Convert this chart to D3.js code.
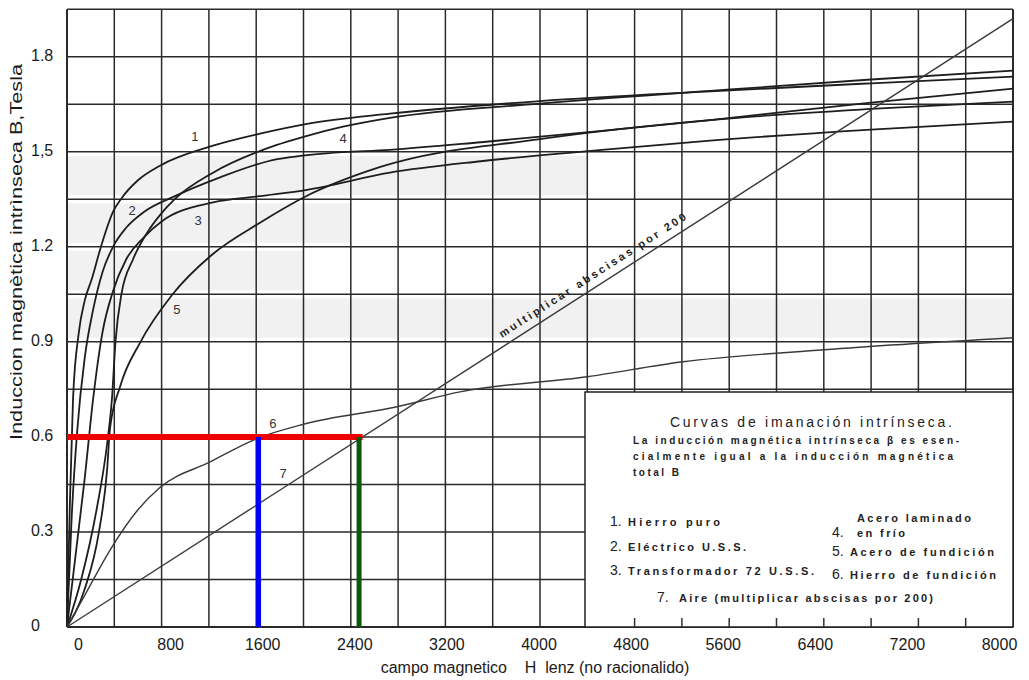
<!DOCTYPE html>
<html>
<head>
<meta charset="utf-8">
<script src="https://cdn.jsdelivr.net/npm/d3@7"></script>
<style>
  body { margin: 0; background: #fff; }
  text { font-family: "Liberation Sans", Arial, sans-serif; }
</style>
</head>
<body>
<div id="chart"></div>
<script>

// values, [H lenz, B tesla]
var curve1 = [[0,0],[25,0.4],[51,0.72],[100,0.93],[150,1.03],[211,1.1],[279,1.19],[389,1.31],[465,1.355],[600,1.41],[786,1.456],[1235,1.519],[1632,1.557],[2030,1.588],[2731,1.62],[4000,1.66],[5400,1.69],[6800,1.716],[8000,1.737]]
var curve2 = [[0,0],[40,0.35],[85,0.613],[150,0.85],[220,1.0],[300,1.12],[389,1.2],[500,1.26],[650,1.31],[913,1.36],[1300,1.42],[1700,1.47],[2200,1.495],[2731,1.506],[3500,1.53],[4500,1.565],[5438,1.6],[6800,1.655],[8000,1.699]]
var curve3 = [[0,0],[80,0.25],[150,0.47],[220,0.717],[300,0.93],[389,1.06],[500,1.16],[650,1.23],[800,1.28],[1235,1.34],[1632,1.36],[2030,1.38],[2731,1.434],[3500,1.47],[4500,1.505],[5438,1.535],[6800,1.57],[8000,1.595]]
var curve4 = [[0,0],[120,0.15],[250,0.37],[340,0.58],[380,0.72],[410,0.9],[460,1.05],[558,1.16],[677,1.244],[786,1.3],[913,1.351],[1235,1.434],[1657,1.506],[2030,1.55],[2334,1.579],[2731,1.607],[4000,1.652],[5438,1.692],[6800,1.728],[8000,1.756]]
var curve5 = [[0,0],[150,0.12],[270,0.3],[340,0.5],[364,0.628],[450,0.76],[617,0.897],[888,1.048],[1226,1.175],[1632,1.276],[2013,1.358],[2650,1.452],[4000,1.54],[5438,1.6],[6800,1.635],[8000,1.658]]
var curve6 = [[0,0],[150,0.1],[364,0.243],[600,0.37],[786,0.44],[1209,0.521],[1607,0.595],[2000,0.64],[2791,0.695],[3323,0.742],[4400,0.79],[5209,0.837],[6400,0.875],[8000,0.913]]
var curve7 = [[0,0],[8000,1.92]]

var curveNames = ["1","2","3","4","5","6","7"]
// where the little numbers sit (H, B)
var curveLabelAt = [[1082,1.544],[550,1.31],[1108,1.279],[2334,1.538],[930,1.0],[1742,0.638],[1827,0.48]]

var xTicks = [0,800,1600,2400,3200,4000,4800,5600,6400,7200,8000]
var yTicks = [0,0.3,0.6,0.9,1.2,1.5,1.8]
var yTickLabels = ["0","0.3","0.6","0.9","1.2","1,5","1.8"]

// the coloured reading lines drawn over the scan
var readB = 0.6
var readHEnd = 2500
var readHBlue = 1620
var readHGreen = 2470

var legendTitle = "Curvas de imanación intrínseca."
var legendNote = ["La inducción magnética intrínseca β es esen-", "cialmente igual a la inducción magnética", "total B"]
var legendNums = ["1.","2.","3.","4.","5.","6.","7."]
var legendTexts = ["Hierro puro","Eléctrico U.S.S.","Transformador 72 U.S.S.","Acero laminado|en frío","Acero de fundición","Hierro de fundición","Aire (multiplicar abscisas por 200)"]

var width = 1029, height = 680

var svg = d3.select("#chart").append("svg")
    .attr("width", width)
    .attr("height", height)

var x = d3.scaleLinear().domain([0, 8000]).range([67, 1013])
var y = d3.scaleLinear().domain([0, 1.96]).range([627, 6])
// tick numbers were typed on a bit narrower than the scanned grid
var xLab = d3.scaleLinear().domain([0, 8000]).range([78, 999])

// faint grey banding from the scan
var bands = [[1.35,1.5,0,4400],[1.2,1.35,0,2400],[0.9,1.05,0,8000],[1.05,1.2,0,2000]]
svg.selectAll(".band")
    .data(bands)
    .enter().append("rect")
    .attr("class","band")
    .attr("x", function(d){ return x(d[2]) })
    .attr("width", function(d){ return x(d[3]) - x(d[2]) })
    .attr("y", function(d){ return y(d[1]) + 4 })
    .attr("height", function(d){ return y(d[0]) - y(d[1]) - 8 })
    .attr("fill", "#f1f1f1")

// grid, every 400 lenz and every 0.15 T
var gx = d3.range(0, 8001, 400)
var gy = d3.range(0, 1.96, 0.15)

svg.append("g").selectAll("line")
    .data(gx)
    .enter().append("line")
    .attr("x1", function(d){ return x(d) })
    .attr("x2", function(d){ return x(d) })
    .attr("y1", y(1.95))
    .attr("y2", y(0))
    .attr("stroke", "#2a2a2a")
    .attr("stroke-width", function(d){ return (d == 0 || d == 8000) ? 2 : 1.5 })

svg.append("g").selectAll("line")
    .data(gy)
    .enter().append("line")
    .attr("x1", x(0))
    .attr("x2", x(8000))
    .attr("y1", function(d){ return y(d) })
    .attr("y2", function(d){ return y(d) })
    .attr("stroke", "#2a2a2a")
    .attr("stroke-width", function(d, i){ return i == 0 ? 2 : 1.5 })

// legend box sits on top of the grid
var box = svg.append("g")
box.append("rect")
    .attr("x", 585).attr("y", 392)
    .attr("width", x(8000) - 585).attr("height", y(0) - 392)
    .attr("fill", "#fff")
    .attr("stroke", "#222")
    .attr("stroke-width", 1.5)

box.selectAll(".tk")
    .data(gx.filter(function(d){ return x(d) > 600 && d < 8000 }))
    .enter().append("line")
    .attr("class","tk")
    .attr("x1", function(d){ return x(d) }).attr("x2", function(d){ return x(d) })
    .attr("y1", y(0) - 9).attr("y2", y(0))
    .attr("stroke", "#333").attr("stroke-width", 1.5)

box.append("text")
    .attr("x", 670).attr("y", 427)
    .attr("font-size", 14)
    .attr("textLength", 282)
    .attr("lengthAdjust", "spacing")
    .attr("fill", "#222")
    .text(legendTitle)

box.selectAll(".note")
    .data(legendNote)
    .enter().append("text")
    .attr("class","note")
    .attr("x", 633)
    .attr("y", function(d, i){ return 444 + i * 16 })
    .attr("font-size", 10)
    .attr("font-weight", "bold")
    .attr("textLength", function(d, i){ return i == 2 ? 46 : (i == 0 ? 326 : 320) })
    .attr("lengthAdjust", "spacing")
    .attr("fill", "#222")
    .text(function(d){ return d })

var legPos = [[610,526],[610,551],[610,575],[832,537],[832,556],[832,579],[657,602]]
var legLen = [92,118,186,114,144,146,254]
legendNums.forEach(function(n, i){
    var g = box.append("g")
    g.append("text")
        .attr("x", legPos[i][0]).attr("y", legPos[i][1])
        .attr("font-size", 14)
        .attr("font-family", "Liberation Serif, serif")
        .attr("fill", "#222")
        .text(n)
    var parts = legendTexts[i].split("|")
    if (parts.length == 2) {
        g.append("text")
            .attr("x", legPos[i][0] + 25).attr("y", legPos[i][1] - 15)
            .attr("font-size", 11).attr("font-weight", "bold").attr("fill", "#222")
            .attr("textLength", legLen[i]).attr("lengthAdjust", "spacing")
            .text(parts[0])
        g.append("text")
            .attr("x", legPos[i][0] + 25).attr("y", legPos[i][1])
            .attr("font-size", 11).attr("font-weight", "bold").attr("fill", "#222")
            .attr("textLength", 48).attr("lengthAdjust", "spacing")
            .text(parts[1])
    } else {
        g.append("text")
            .attr("x", legPos[i][0] + (i == 6 ? 22 : 18)).attr("y", legPos[i][1])
            .attr("font-size", 11).attr("font-weight", "bold").attr("fill", "#222")
            .attr("textLength", legLen[i]).attr("lengthAdjust", "spacing")
            .text(parts[0])
    }
})

// the magnetisation curves
var line = d3.line()
    .x(function(d){ return x(d[0]) })
    .y(function(d){ return y(d[1]) })
    .curve(d3.curveMonotoneX)

var curves = [curve1, curve2, curve3, curve4, curve5, curve6, curve7]
svg.append("g").selectAll("path")
    .data(curves)
    .enter().append("path")
    .attr("d", line)
    .attr("fill", "none")
    .attr("stroke", function(d, i){ return i >= 5 ? "#3a3a3a" : "#1e1e1e" })
    .attr("stroke-width", function(d, i){ return i >= 5 ? 1.4 : 1.8 })

svg.append("g").selectAll("text")
    .data(curveNames)
    .enter().append("text")
    .attr("x", function(d, i){ return x(curveLabelAt[i][0]) })
    .attr("y", function(d, i){ return y(curveLabelAt[i][1]) })
    .attr("text-anchor", "middle")
    .attr("dominant-baseline", "middle")
    .attr("font-family", "Liberation Serif, serif")
    .attr("font-size", 13)
    .attr("fill", "#333")
    .text(function(d){ return d })

// text riding along the air line
var ang = Math.atan2(y(1.92) - y(0), x(8000) - x(0)) * 180 / Math.PI
svg.append("text")
    .attr("transform", "translate(" + x(4460) + "," + y(1.1) + ") rotate(" + ang + ")")
    .attr("text-anchor", "middle")
    .attr("font-size", 11)
    .attr("font-weight", "bold")
    .attr("textLength", 220)
    .attr("lengthAdjust", "spacing")
    .attr("fill", "#222")
    .text("multiplicar abscisas por 200")

// red / blue / green reading lines
svg.append("line")
    .attr("x1", x(0)).attr("x2", x(readHEnd))
    .attr("y1", y(readB)).attr("y2", y(readB))
    .attr("stroke", "#ee0000").attr("stroke-width", 6)
svg.append("line")
    .attr("x1", x(readHBlue)).attr("x2", x(readHBlue))
    .attr("y1", y(readB)).attr("y2", y(0))
    .attr("stroke", "#0000ff").attr("stroke-width", 5)
svg.append("line")
    .attr("x1", x(readHGreen)).attr("x2", x(readHGreen))
    .attr("y1", y(readB)).attr("y2", y(0))
    .attr("stroke", "#0b5a0b").attr("stroke-width", 5)

// axes
var xAxis = svg.append("g")
    .attr("transform", "translate(0," + 636 + ")")
    .call(d3.axisBottom(xLab).tickValues(xTicks).tickSize(0).tickFormat(d3.format("d")))
xAxis.select(".domain").remove()
xAxis.selectAll("text")
    .attr("font-size", 16)
    .attr("font-family", "Liberation Sans, Arial, sans-serif")
    .attr("fill", "#1a1a1a")

svg.append("g").selectAll("text")
    .data(yTicks)
    .enter().append("text")
    .attr("x", 31)
    .attr("y", function(d){ return y(d) })
    .attr("dominant-baseline", "middle")
    .attr("font-size", 16)
    .attr("fill", "#1a1a1a")
    .text(function(d, i){ return yTickLabels[i] })

svg.append("text")
    .attr("transform", "translate(22,252) rotate(-90)")
    .attr("text-anchor", "middle")
    .attr("font-size", 16)
    .attr("textLength", 376)
    .attr("lengthAdjust", "spacingAndGlyphs")
    .attr("fill", "#1a1a1a")
    .text("Induccion magnètica intrìnseca B,Tesla")

svg.append("text")
    .attr("x", 535).attr("y", 673)
    .attr("text-anchor", "middle")
    .attr("font-size", 16)
    .attr("fill", "#1a1a1a")
    .style("white-space", "pre")
    .text("campo magnetico    H  lenz (no racionalido)")

</script>
</body>
</html>
